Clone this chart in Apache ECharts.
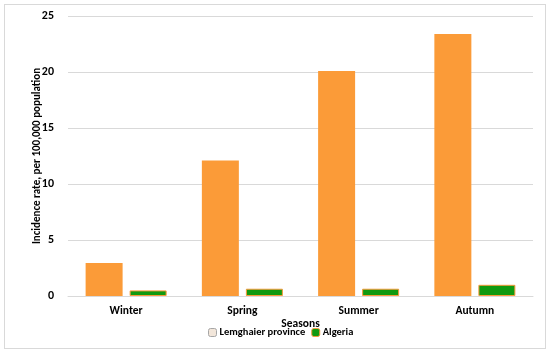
<!DOCTYPE html>
<html><head><meta charset="utf-8">
<script src="https://cdn.jsdelivr.net/npm/echarts@6/dist/echarts.min.js"></script>
<style>html,body{margin:0;padding:0;background:#fff}#c{width:550px;height:355px}
#frame{position:absolute;left:4px;top:4px;width:542px;height:345px;border:1px solid #d9d9d9;box-sizing:border-box;pointer-events:none}</style>
</head><body><div id="c"></div><div id="frame"></div>
<script>
const categories = ['Winter', 'Spring', 'Summer', 'Autumn'];
const lemghaier = [2.95, 12.1, 20.1, 23.4];
const algeria = [0.5, 0.65, 0.65, 1.0];
const seriesNames = ['Lemghaier province', 'Algeria'];
const yTicks = { min: 0, max: 25, interval: 5 };

const chart = echarts.init(document.getElementById('c'));
const font = 'Calibri, Carlito, "Liberation Sans", Arial, sans-serif';
chart.setOption({
  animation: false,
  textStyle: { fontFamily: font },
  grid: { left: 68, right: 17, top: 16, bottom: 59 },
  legend: {
    left: 208, top: 327, padding: 0, itemWidth: 8, itemHeight: 8, itemGap: 6,
    textStyle: { fontSize: 10.5, fontWeight: 'bold', color: '#000', fontFamily: font, padding: [0, 0, 0, -2] },
    data: [
      { name: seriesNames[0], itemStyle: { color: '#f2e6da', borderColor: '#a6a6a6', borderWidth: 1 } },
      { name: seriesNames[1], itemStyle: { color: '#109a10', borderColor: '#f79a3a', borderWidth: 1 } }
    ]
  },
  xAxis: {
    type: 'category', data: categories,
    name: 'Seasons', nameLocation: 'middle', nameGap: 22, nameMoveOverlap: false,
    nameTextStyle: { fontSize: 11.5, fontWeight: 'bold', color: '#000' },
    axisLine: { lineStyle: { color: '#d9d9d9', width: 1 } },
    axisTick: { show: false },
    axisLabel: { fontSize: 11.5, fontWeight: 'bold', color: '#000', margin: 9 }
  },
  yAxis: {
    type: 'value', min: yTicks.min, max: yTicks.max, interval: yTicks.interval,
    name: 'Incidence rate, per 100,000 population', nameLocation: 'middle', nameGap: 25, nameMoveOverlap: false,
    nameTextStyle: { fontSize: 11, fontWeight: 'bold', color: '#000' },
    axisLabel: { fontSize: 12, fontWeight: 'bold', color: '#000', margin: 14 },
    splitLine: { lineStyle: { color: '#d9d9d9', width: 1 } }
  },
  series: [
    { name: seriesNames[0], type: 'bar', data: lemghaier, barWidth: 37, barGap: '19%',
      itemStyle: { color: '#fb9b38' } },
    { name: seriesNames[1], type: 'bar', data: algeria, barWidth: 37,
      itemStyle: { color: '#109a10', borderColor: '#f79a3a', borderWidth: 1 } }
  ]
});
</script></body></html>
